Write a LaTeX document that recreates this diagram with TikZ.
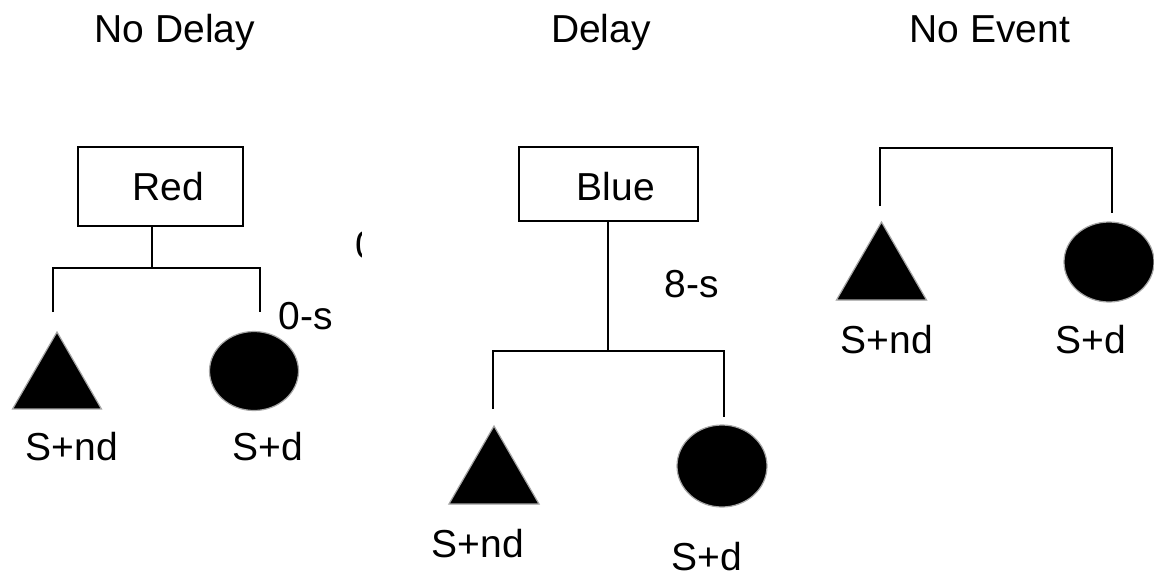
\documentclass[tikz,border=0pt]{standalone}
\usepackage{fontspec}
\setmainfont{Liberation Sans}
\usetikzlibrary{shapes.geometric}
\begin{document}
\begin{tikzpicture}[x=1pt,y=-1pt,
  lbl/.style={inner sep=0pt,anchor=base,font=\fontsize{39}{46}\selectfont},
  head/.style={draw=black,line width=1.6pt,inner sep=0pt,minimum width=#1},
  link/.style={draw=black,line width=1.6pt},
  tri/.style={regular polygon,regular polygon sides=3,fill=black,draw=gray!70,line width=1.2pt,inner sep=0pt,outer sep=0pt,minimum size=#1},
  dot/.style={ellipse,fill=black,draw=gray!70,line width=1.2pt,inner sep=0pt,outer sep=0pt}]
\useasboundingbox (0,0) rectangle (1154,574);

% column titles
\node[lbl] (t1) at (175,42) {No Delay};
\node[lbl] (t2) at (601,42) {Delay};
\node[lbl] (t3) at (990,42) {No Event};

% --- first tree ---
\node[head=165pt,minimum height=79pt] (redbox) at (160.5,186.5) {};
\node[lbl] (redtxt) at (168,200) {Red};
\coordinate (rj) at (152,268);
\coordinate (rl) at (53,312);
\coordinate (rr) at (260,312);
\draw[link] (redbox.south -| rj) -- (rj);
\draw[link] (rl) |- (rj) -| (rr);
\node[tri=102.6pt] (rtri) at (57,383.3) {};
\node[dot,minimum width=89pt,minimum height=79pt] (rdot) at (254,371) {};
\node[lbl] (r0s) at (306,329) {0-s};
\node[lbl] (rnd) at (72,460) {S+nd};
\node[lbl] (rd) at (268,460) {S+d};
\begin{scope}
  \clip (350,225) rectangle (361,265);
  \node[lbl,anchor=base west] (frag) at (355,258) {0};
\end{scope}

% --- second tree ---
\node[head=179pt,minimum height=74pt] (bluebox) at (608.5,184) {};
\node[lbl] (bluetxt) at (616,200) {Blue};
\coordinate (bj) at (608,351);
\coordinate (bl) at (493,409);
\coordinate (br) at (724,417);
\draw[link] (bluebox.south -| bj) -- (bj);
\draw[link] (bl) |- (bj) -| (br);
\node[lbl] (b8s) at (692,297) {8-s};
\node[tri=104pt] (btri) at (494,478) {};
\node[dot,minimum width=90pt,minimum height=82pt] (bdot) at (722,466) {};
\node[lbl] (bnd) at (478,557) {S+nd};
\node[lbl] (bd) at (707,570) {S+d};

% --- third tree ---
\coordinate (nl) at (880,206);
\coordinate (nr) at (1112,213);
\coordinate (nt) at (996,148);
\draw[link] (nl) |- (nt) -| (nr);
\node[tri=104pt] (ntri) at (881.5,274) {};
\node[dot,minimum width=90pt,minimum height=80pt] (ndot) at (1109,262) {};
\node[lbl] (nnd) at (887,353) {S+nd};
\node[lbl] (nd) at (1091,353) {S+d};
\end{tikzpicture}
\end{document}
